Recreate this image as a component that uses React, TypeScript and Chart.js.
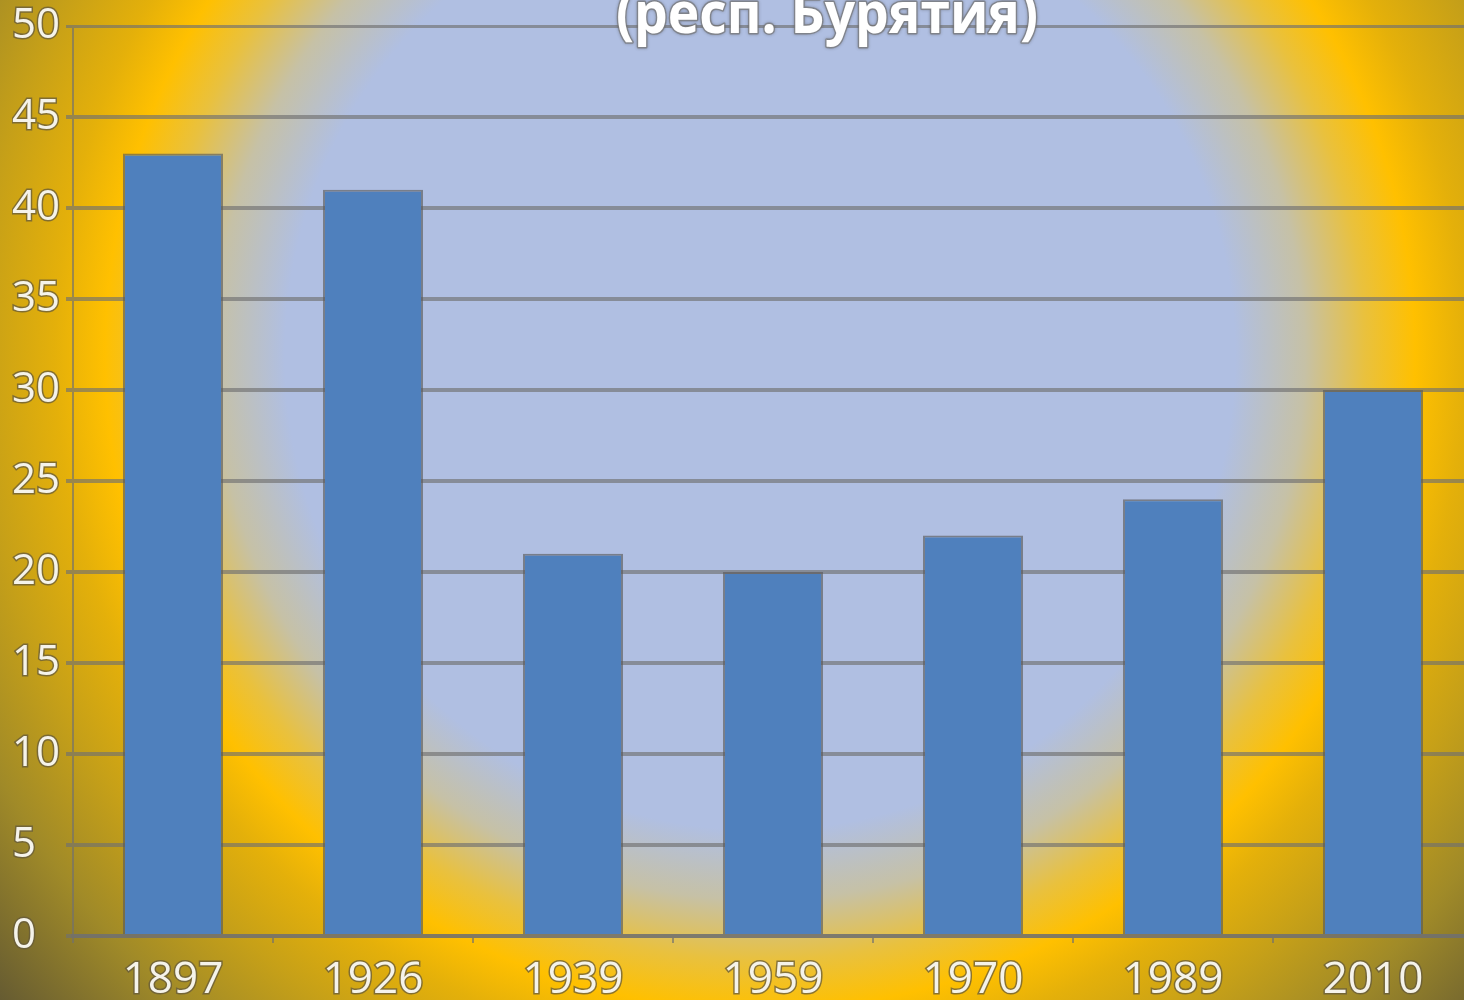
import React, { useEffect, useRef } from "react";
import { Chart, registerables } from "chart.js";

Chart.register(...registerables);

const categories = ["1897", "1926", "1939", "1959", "1970", "1989", "2010"];
const values = [43, 41, 21, 20, 22, 24, 30];
const yTicks = [0, 5, 10, 15, 20, 25, 30, 35, 40, 45, 50];
const titleText = "(респ. Бурятия)";

const CANVAS_W = 1654;
const CANVAS_H = 1000;

const titlePlugin = {
  id: "cutTitle",
  afterDraw(chart: any) {
    const ctx = chart.ctx;
    ctx.save();
    ctx.font = "bold 58px 'Open Sans', 'Noto Sans', sans-serif";
    ctx.textAlign = "center";
    ctx.textBaseline = "alphabetic";
    const x = chart.width / 2;
    const y = 33;
    ctx.lineJoin = "round";
    ctx.shadowColor = "rgba(60,60,60,0.55)";
    ctx.shadowBlur = 3;
    ctx.lineWidth = 3;
    ctx.strokeStyle = "rgba(120,120,120,0.7)";
    ctx.strokeText(titleText, x, y, 422);
    ctx.shadowColor = "transparent";
    ctx.fillStyle = "#ffffff";
    ctx.fillText(titleText, x, y, 422);
    ctx.restore();
  },
};

export default function App() {
  const ref = useRef<HTMLCanvasElement | null>(null);

  useEffect(() => {
    if (!ref.current) return;
    const gridColor = "rgba(112,112,112,0.65)";
    const chart = new Chart(ref.current, {
      type: "bar",
      data: {
        labels: categories,
        datasets: [
          {
            data: values,
            backgroundColor: "#4f80bd",
            borderColor: "rgba(90,90,90,0.65)",
            borderWidth: 2,
            barPercentage: 0.5,
            categoryPercentage: 1,
          },
        ],
      },
      options: {
        animation: false,
        responsive: false,
        devicePixelRatio: 1,
        layout: {
          autoPadding: false,
          padding: { top: 26, right: 181, bottom: 0, left: 12 },
        },
        plugins: {
          legend: { display: false },
          title: { display: false },
          tooltip: { enabled: false },
        },
        scales: {
          x: {
            afterFit: (s: any) => {
              s.height = 64;
            },
            grid: {
              display: true,
              drawOnChartArea: false,
              drawTicks: true,
              tickLength: 7,
              offset: true,
              color: gridColor,
              lineWidth: 2,
            },
            border: { display: true, color: gridColor, width: 4 },
            ticks: {
              color: "#f5f3ea",
              padding: 11,
              font: { family: "'Open Sans', sans-serif", size: 44 },
              textStrokeColor: "rgba(100,90,60,0.75)",
              textStrokeWidth: 3,
              maxRotation: 0,
              autoSkip: false,
            },
          },
          y: {
            min: 0,
            max: 50,
            afterFit: (s: any) => {
              s.width = 61;
              s.paddingTop = 0;
              s.paddingBottom = 0;
            },
            afterBuildTicks: (s: any) => {
              s.ticks = yTicks.map((v) => ({ value: v }));
            },
            grid: {
              color: gridColor,
              lineWidth: (c: any) => (c.tick && c.tick.value === 50 ? 3 : 4),
              drawTicks: true,
              tickLength: 7,
            },
            border: { display: true, color: gridColor, width: 2 },
            ticks: {
              stepSize: 5,
              crossAlign: "far",
              color: "#f5f3ea",
              padding: 8,
              font: { family: "'Open Sans', sans-serif", size: 42 },
              textStrokeColor: "rgba(100,90,60,0.75)",
              textStrokeWidth: 3,
            },
          },
        },
      },
      plugins: [titlePlugin],
    });
    return () => chart.destroy();
  }, []);

  return (
    <div
      style={{
        position: "fixed",
        left: 0,
        top: 0,
        width: 1464,
        height: 1000,
        overflow: "hidden",
        background:
          "radial-gradient(circle 1000px at 760px 355px, #b0bfe2 0px, #b0bfe2 475px, #c6c1a6 545px, #e9c13e 605px, #ffc000 655px, #e4b00a 705px, #c6a018 780px, #a08a28 870px, #645a32 1000px)",
      }}
    >
      <canvas
        ref={ref}
        width={CANVAS_W}
        height={CANVAS_H}
        style={{ display: "block", width: CANVAS_W, height: CANVAS_H }}
      />
    </div>
  );
}
